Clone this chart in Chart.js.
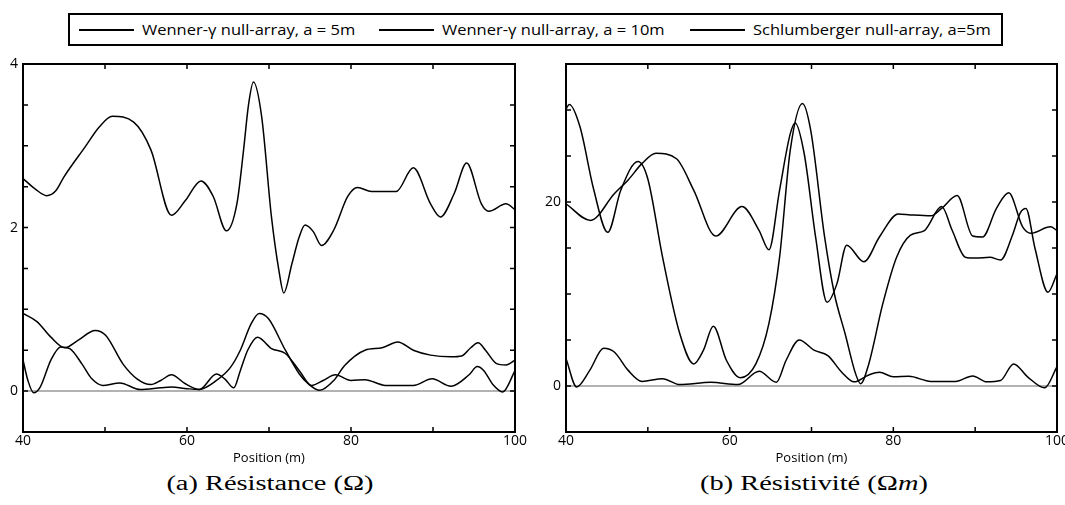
<!DOCTYPE html>
<html>
<head>
<meta charset="utf-8">
<script src="https://cdn.jsdelivr.net/npm/chart.js@4.4.1/dist/chart.umd.min.js"></script>
<style>
  html, body { margin: 0; padding: 0; background: #fff; }
  body { position: relative; width: 1065px; height: 505px; overflow: hidden; }
  canvas { position: absolute; top: 50px; }
  #resChart { left: 0; }
  #rhoChart { left: 530px; }
  #legend {
    position: absolute; left: 68px; top: 13px; width: 935px; height: 33px;
    box-sizing: border-box; border: 2px solid #000;
    font-family: "Open Sans", sans-serif; font-size: 15px; color: #000;
  }
  .item { position: absolute; top: 0; height: 29px; line-height: 29px; white-space: nowrap; }
  .item .swatch { position: absolute; left: 0; top: 14px; width: 55px; border-top: 2px solid #000; }
  .item .label { position: absolute; left: 63px; top: 0; transform: scaleX(1.1); transform-origin: left center; }
  .caption {
    position: absolute; top: 472px; width: 400px; text-align: center;
    font-family: "Liberation Serif", serif; font-size: 20px; color: #000;
    transform: scaleX(1.42); transform-origin: center center;
  }
</style>
</head>
<body>
<div id="legend">
  <div class="item" style="left:9px"><span class="swatch"></span><span class="label">Wenner-γ null-array, a = 5m</span></div>
  <div class="item" style="left:309px"><span class="swatch"></span><span class="label">Wenner-γ null-array, a = 10m</span></div>
  <div class="item" style="left:620px"><span class="swatch"></span><span class="label">Schlumberger null-array, a=5m</span></div>
</div>
<canvas id="resChart" width="530" height="418"></canvas>
<canvas id="rhoChart" width="550" height="418"></canvas>
<div class="caption" style="left:70px">(a) Résistance (Ω)</div>
<div class="caption" style="left:614px">(b) Résistivité (Ω<i>m</i>)</div>

<script>
// ---- (a) Résistance (Ohm) ----
const resW5X = [40, 41.5, 42.9, 44, 45, 47.6, 49.3, 50.9, 53.5, 55.6, 58.1, 59.8, 61.7, 63.2, 64.8, 66.1, 66.9, 67.5, 68.1, 69.1, 70.3, 71.2, 71.8, 72.8, 73.7, 74.4, 75.4, 76.4, 77.9, 79.6, 80.8, 82.5, 85.5, 87.6, 89.7, 90.9, 92.6, 94.1, 95.9, 96.8, 98.9, 100];
const resW5Y = [2.6, 2.47, 2.39, 2.45, 2.62, 2.99, 3.23, 3.36, 3.29, 2.95, 2.15, 2.33, 2.57, 2.38, 1.96, 2.3, 2.95, 3.5, 3.78, 3.36, 2.13, 1.48, 1.2, 1.56, 1.89, 2.03, 1.95, 1.78, 1.97, 2.38, 2.49, 2.44, 2.44, 2.73, 2.29, 2.13, 2.42, 2.79, 2.29, 2.2, 2.29, 2.22];

const resW10X = [40, 41.7, 43.4, 45.1, 46.7, 48.8, 50.1, 52.2, 53.9, 55.6, 56.8, 58.1, 59.8, 61.5, 63.6, 65.3, 66.5, 67.8, 68.8, 69.9, 72, 73.7, 74.9, 76.2, 77.9, 79.2, 81.7, 83.8, 85.7, 87.6, 89.7, 92.2, 93.5, 94.6, 95.5, 96.4, 97.7, 98.9, 100];
const resW10Y = [0.95, 0.85, 0.66, 0.53, 0.62, 0.74, 0.68, 0.33, 0.15, 0.08, 0.13, 0.2, 0.09, 0.02, 0.13, 0.29, 0.5, 0.82, 0.95, 0.89, 0.5, 0.21, 0.08, 0.01, 0.13, 0.31, 0.5, 0.53, 0.6, 0.5, 0.44, 0.42, 0.43, 0.53, 0.59, 0.5, 0.34, 0.32, 0.38];

const resSchX = [40, 40.6, 41.3, 42.1, 43.4, 44.6, 45.7, 47.2, 48.4, 49.7, 51.8, 54.3, 56.8, 58.1, 60, 61.5, 63.6, 64.6, 65.7, 66.5, 67.4, 68.6, 70.3, 72, 73.7, 75.2, 76.6, 78.1, 80, 81.7, 84.2, 87.6, 89.9, 92.2, 94.4, 95.4, 96.2, 97.3, 98.5, 100];
const resSchY = [0.38, 0.13, -0.02, 0.05, 0.38, 0.54, 0.52, 0.33, 0.15, 0.07, 0.1, 0.02, 0.04, 0.05, 0.03, 0.02, 0.21, 0.15, 0.04, 0.25, 0.5, 0.66, 0.52, 0.46, 0.25, 0.07, 0.13, 0.2, 0.13, 0.14, 0.07, 0.07, 0.15, 0.06, 0.2, 0.3, 0.25, 0.08, -0.01, 0.25];

// ---- (b) Résistivité (Ohm m) ----
const rhoW5X = [40, 43, 45.9, 47.6, 49.3, 51, 53.5, 55.6, 58.3, 61.5, 63.6, 64.8, 66.1, 67.4, 68, 69.1, 70.5, 71.9, 73.1, 74.3, 76.4, 78.3, 80.6, 82.1, 84.6, 85.9, 87.8, 89.7, 90.9, 92.6, 94.1, 95.8, 96.8, 99.2, 100];
const rhoW5Y = [19.8, 18.0, 20.9, 22.4, 24.2, 25.3, 24.7, 21.3, 16.3, 19.5, 16.9, 14.8, 21.3, 27.4, 28.6, 25.3, 16.2, 9.1, 11.1, 15.3, 13.5, 16.2, 18.7, 18.6, 18.5, 19.3, 20.7, 16.3, 16.2, 19.3, 21.0, 17.3, 16.6, 17.3, 16.9];

const rhoW10X = [40, 40.4, 41.7, 43.4, 45.1, 46.7, 48.8, 50, 51.8, 53.9, 55.6, 56.8, 58, 59.6, 61.3, 63.2, 64.8, 66.1, 67.4, 68.9, 69.9, 71.6, 72.8, 74.1, 75.4, 76, 77, 78.7, 80.4, 82.1, 83.8, 85.9, 87.2, 88.8, 90.1, 91.8, 93.1, 94.6, 95.5, 96.2, 97.3, 98.9, 100];
const rhoW10Y = [30.1, 30.6, 28.2, 21.3, 16.7, 21.3, 24.4, 22.5, 14.0, 5.7, 2.4, 3.9, 6.5, 2.8, 0.9, 2.4, 6.8, 14.0, 25.6, 30.7, 27.8, 16.2, 10.0, 5.7, 1.3, 0.25, 2.4, 8.9, 14.0, 16.4, 16.9, 19.5, 16.9, 14.0, 13.9, 14.0, 13.7, 16.5, 18.8, 19.3, 15.0, 10.2, 12.2];

const rhoSchX = [40, 41.3, 42.9, 44.6, 45.9, 47.6, 49.3, 51.8, 53.9, 57.7, 61, 63.6, 65.7, 66.9, 68.5, 70.3, 72, 73.7, 75.2, 77, 78.3, 80, 81.9, 84.6, 87.6, 89.7, 91.4, 93.1, 94.7, 96.4, 98.5, 100];
const rhoSchY = [3.0, -0.1, 1.7, 4.1, 3.7, 1.7, 0.5, 0.8, 0.15, 0.4, 0.15, 1.6, 0.4, 2.8, 5.0, 3.9, 3.3, 1.5, 0.45, 1.2, 1.5, 1.0, 1.05, 0.5, 0.5, 1.1, 0.45, 0.6, 2.4, 1.0, -0.2, 2.1];

// ---- axes ----
const positionTicks = [40, 60, 80, 100];
const zeroLineX = [40, 100];
const zeroLineY = [0, 0];

Chart.defaults.font.family = '"Open Sans", sans-serif';
Chart.defaults.font.size = 14;
Chart.defaults.color = '#000';

function toPoints(xs, ys) {
  return xs.map((x, i) => ({ x: x, y: ys[i] }));
}

function curve(xs, ys) {
  return {
    data: toPoints(xs, ys),
    borderColor: '#000',
    borderWidth: 1.5,
    pointRadius: 0,
    cubicInterpolationMode: 'monotone',
    fill: false,
  };
}

// frame box with inward ticks on all four sides
const frameTicks = {
  id: 'frameTicks',
  afterDatasetsDraw(chart) {
    const { ctx, chartArea: a, scales: { x, y } } = chart;
    const len = 5;
    ctx.save();
    ctx.strokeStyle = '#000';
    ctx.lineWidth = 1.5;
    ctx.beginPath();
    x.ticks.forEach(function (t) {
      const px = x.getPixelForValue(t.value);
      ctx.moveTo(px, a.bottom); ctx.lineTo(px, a.bottom - len);
      ctx.moveTo(px, a.top); ctx.lineTo(px, a.top + len);
    });
    y.ticks.forEach(function (t) {
      const py = y.getPixelForValue(t.value);
      ctx.moveTo(a.left, py); ctx.lineTo(a.left + len, py);
      ctx.moveTo(a.right, py); ctx.lineTo(a.right - len, py);
    });
    ctx.stroke();
    ctx.lineWidth = 2;
    ctx.strokeRect(a.left, a.top, a.width, a.height);
    ctx.restore();
  },
};

function panel(canvasId, series, yMin, yMax, yStep, yLabelEvery, axisWidth, padRight) {
  const ctx = document.getElementById(canvasId).getContext('2d');
  const datasets = series.map(function (s) { return curve(s[0], s[1]); });
  datasets.push({
    data: toPoints(zeroLineX, zeroLineY),
    borderColor: '#999',
    borderWidth: 1.5,
    pointRadius: 0,
    fill: false,
  });
  return new Chart(ctx, {
    type: 'line',
    data: { datasets },
    options: {
      responsive: false,
      animation: false,
      layout: { padding: { top: 14, right: padRight, left: 0, bottom: 0 } },
      plugins: { legend: { display: false }, tooltip: { enabled: false } },
      scales: {
        x: {
          type: 'linear',
          min: 40,
          max: 100,
          grid: { display: false, drawTicks: false },
          border: { display: false },
          ticks: {
            stepSize: 10,
            padding: 1,
            maxRotation: 0,
            autoSkip: false,
            callback: (v) => positionTicks.includes(v) ? String(v) : '',
          },
          title: { display: true, text: 'Position (m)', font: { size: 13 }, padding: { top: 0, bottom: 2 } },
          afterFit: (scale) => { scale.height = 36; },
        },
        y: {
          min: yMin,
          max: yMax,
          grid: { display: false, drawTicks: false },
          border: { display: false },
          ticks: {
            stepSize: yStep,
            padding: 5,
            autoSkip: false,
            callback: (v) => Math.abs(v % yLabelEvery) < 1e-9 ? String(v) : '',
          },
          afterFit: (scale) => { scale.width = axisWidth; },
        },
      },
    },
    plugins: [frameTicks],
  });
}

panel('resChart', [[resW5X, resW5Y], [resW10X, resW10Y], [resSchX, resSchY]], -0.5, 4, 0.5, 2, 23, 15);
panel('rhoChart', [[rhoW5X, rhoW5Y], [rhoW10X, rhoW10Y], [rhoSchX, rhoSchY]], -5, 35, 5, 20, 36, 23);
</script>
</body>
</html>
